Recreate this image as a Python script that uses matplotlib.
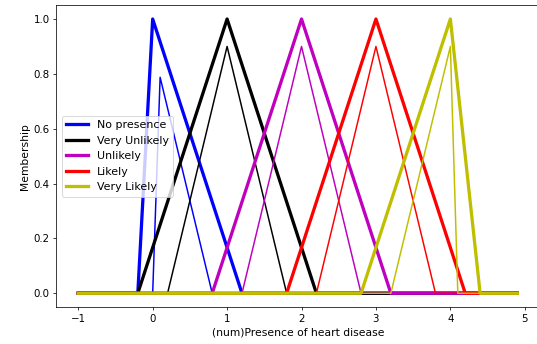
import matplotlib
matplotlib.use("Agg")
import matplotlib.pyplot as plt

labels = ["No presence", "Very Unlikely", "Unlikely", "Likely", "Very Likely"]
colors = ["b", "k", "m", "r", "y"]

# upper membership functions (breakpoints)
upper_x = [
    [-1, -0.2, 0.0, 1.2, 4.9],
    [-1, -0.2, 1.0, 2.2, 4.9],
    [-1, 0.8, 2.0, 3.2, 4.9],
    [-1, 1.8, 3.0, 4.2, 4.9],
    [-1, 2.8, 4.0, 4.4, 4.9],
]
upper_y = [
    [0, 0, 1.0, 0, 0],
    [0, 0, 1.0, 0, 0],
    [0, 0, 1.0, 0, 0],
    [0, 0, 1.0, 0, 0],
    [0, 0, 1.0, 0, 0],
]
# lower membership functions (breakpoints)
lower_x = [
    [-1, 0.0, 0.1, 0.8, 4.9],
    [-1, 0.2, 1.0, 1.8, 4.9],
    [-1, 1.2, 2.0, 2.8, 4.9],
    [-1, 2.2, 3.0, 3.8, 4.9],
    [-1, 3.2, 4.0, 4.1, 4.9],
]
lower_y = [
    [0, 0, 0.7875, 0, 0],
    [0, 0, 0.9, 0, 0],
    [0, 0, 0.9, 0, 0],
    [0, 0, 0.9, 0, 0],
    [0, 0, 0.9, 0, 0],
]

W, H, DPI = 537, 344, 67
fig = plt.figure(figsize=(W / DPI, H / DPI), dpi=DPI)
ax = fig.add_axes([56.3 / W, 1 - 307 / H, 483 / W, (307 - 5.3) / H])

for i in range(len(labels)):
    ax.plot(upper_x[i], upper_y[i], color=colors[i], lw=3.5, label=labels[i])
    ax.plot(lower_x[i], lower_y[i], color=colors[i], lw=1.6)

ax.tick_params(labelsize=11)
ax.set_xlabel("(num)Presence of heart disease", fontsize=11.5)
ax.set_ylabel("Membership", fontsize=11.5)
ax.legend(loc="center left", fontsize=11.8)
fig.savefig("out.png", dpi=DPI)
